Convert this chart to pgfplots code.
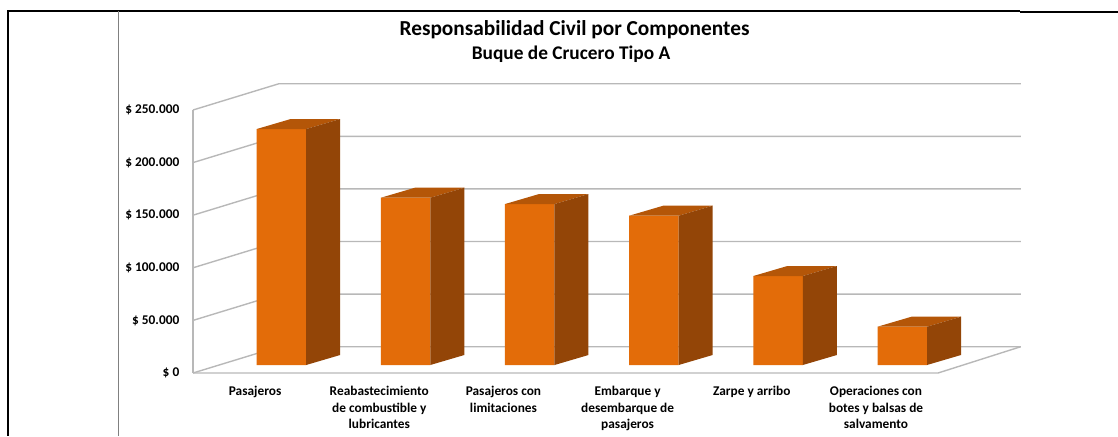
\documentclass[border=0pt]{standalone}
\usepackage{fontspec}
\setmainfont{Carlito}
\usepackage{pgfplots}
\pgfplotsset{compat=1.18}
\usepackage{pgfplotstable}
\definecolor{frontc}{HTML}{E36C09}
\definecolor{sidec}{HTML}{934507}
\definecolor{topc}{HTML}{B45608}
\definecolor{gridc}{HTML}{B8B8B8}
\pgfplotstableread{
x v
0.5 224.3
1.5 159.0
2.5 153.0
3.5 141.9
4.5 84.6
5.5 36.4
}\datatable
\pgfdeclareplotmark{prism}{%
  \pgfmathsetlengthmacro\barh{\barval*0.789bp}%
  \pgfsetfillcolor{topc}%
  \pgfpathmoveto{\pgfpoint{-18.5625bp}{0bp}}%
  \pgfpathlineto{\pgfpoint{18.5625bp}{0bp}}%
  \pgfpathlineto{\pgfpoint{44.0625bp}{7.5bp}}%
  \pgfpathlineto{\pgfpoint{6.9375bp}{7.5bp}}%
  \pgfpathclose
  \pgfusepath{fill}%
  \pgfsetfillcolor{sidec}%
  \pgfpathmoveto{\pgfpoint{18.5625bp}{0bp}}%
  \pgfpathlineto{\pgfpoint{44.0625bp}{7.5bp}}%
  \pgfpathlineto{\pgfpoint{44.0625bp}{7.5bp-\barh}}%
  \pgfpathlineto{\pgfpoint{18.5625bp}{-\barh}}%
  \pgfpathclose
  \pgfusepath{fill}%
}
\begin{document}
\begin{tikzpicture}[x=0.75bp,y=0.75bp]
\useasboundingbox (0,0) rectangle (1118,436);
\draw[black, line width=1bp] (7,425) -- (1020,425);
\draw[black, line width=1.6bp] (1020,424.3) -- (1118,424.3);
\draw[black, line width=1.5bp] (8,425.5) -- (8,0);
\draw[gray, line width=0.75bp] (118.5,425) -- (118.5,0);
\node[anchor=base, inner sep=0pt, font=\fontsize{16bp}{19bp}\selectfont\bfseries] at (574.5,400) {Responsabilidad Civil por Componentes};
\node[anchor=base, inner sep=0pt, font=\fontsize{14.5bp}{17bp}\selectfont\bfseries] at (571,376.5) {Buque de Crucero Tipo A};
\begin{axis}[
  at={(144.75bp,47.25bp)}, anchor=origin,
  x=93.13bp, y=0.789bp,
  xmin=0, xmax=6, ymin=0, ymax=250,
  axis line style={draw=none},
  major tick length=0pt,
  tick style={draw=none},
  clip=false,
  ytick={0,50,...,250},
  yticklabels={\$ 0,\$ 50.000,\$ 100.000,\$ 150.000,\$ 200.000,\$ 250.000},
  xtick={0.5,1.5,2.5,3.5,4.5,5.5},
  xticklabels={Pasajeros,{Reabastecimiento\\de combustible y\\lubricantes},{Pasajeros con\\limitaciones},{Embarque y\\desembarque de\\pasajeros},Zarpe y arribo,{Operaciones con\\botes y balsas de\\salvamento}},
  yticklabel style={anchor=east, inner sep=0pt, xshift=-10.1bp, font=\fontsize{10bp}{12.3bp}\selectfont\bfseries},
  xticklabel style={anchor=north, inner sep=0pt, yshift=-9.75bp, align=center, font=\fontsize{10bp}{12.3bp}\selectfont\bfseries},
]
\pgfplotsinvokeforeach{0,50,100,150,200,250}{
  \draw[gridc, line width=1.05bp] (axis cs:0,#1) -- (axis cs:0.6926,{#1+25}) -- (axis cs:6.666,{#1+25});
}
\draw[gridc, line width=1.05bp] (axis cs:0,0) -- (axis cs:0,250);
\draw[gridc, line width=1.05bp] (axis cs:0,0) -- (axis cs:6,0) -- (axis cs:6.666,25);
\addplot[ybar, bar width=0.3986, bar shift=0.2118, fill=frontc, draw=none, yshift=6bp] table[x=x,y=v]{\datatable};
\addplot[scatter, only marks, mark=prism, scatter/use mapped color={draw=none,fill=none}, visualization depends on={\thisrow{v}\as\barval}, xshift=19.725bp, yshift=6bp] table[x=x,y=v]{\datatable};
\end{axis}
\end{tikzpicture}
\end{document}
